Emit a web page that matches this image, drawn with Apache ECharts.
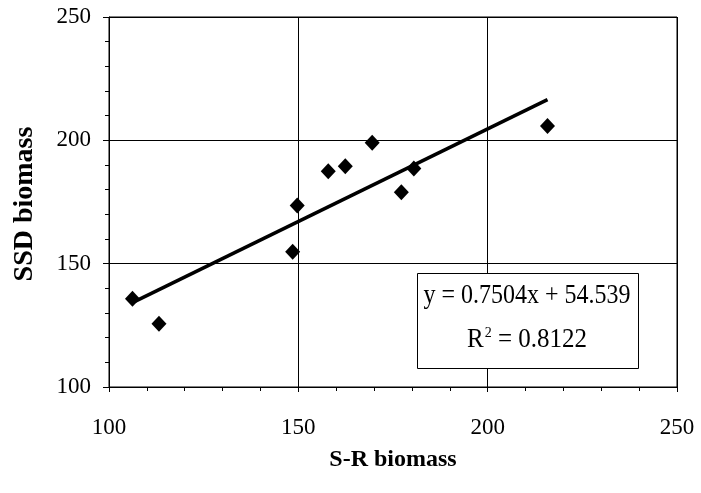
<!DOCTYPE html>
<html>
<head>
<meta charset="utf-8">
<script src="https://cdn.jsdelivr.net/npm/echarts@6/dist/echarts.min.js"></script>
<style>
  html, body { margin: 0; padding: 0; background: #fff; }
  #chart { width: 701px; height: 493px; }
</style>
</head>
<body>
<div id="chart"></div>
<script>
// S-R biomass vs SSD biomass samples
const srBiomass  = [106.2, 113.2, 148.5, 149.7, 157.9, 162.4, 169.5, 177.2, 180.5, 215.8];
const ssdBiomass = [135.8, 125.6, 154.8, 173.6, 187.5, 189.5, 199.0, 179.0, 188.6, 205.8];

// Linear fit reported on the chart
const slope = 0.7504;
const intercept = 54.539;
const rSquared = '0.8122';

const xTicks = [100, 150, 200, 250];
const yTicks = [100, 150, 200, 250];

const points = srBiomass.map((x, i) => [x, ssdBiomass[i]]);
const xMin = Math.min(...srBiomass);
const xMax = Math.max(...srBiomass);
const fitLine = [[xMin, slope * xMin + intercept], [xMax, slope * xMax + intercept]];

const serif = '"Liberation Serif", "Times New Roman", serif';

const chart = echarts.init(document.getElementById('chart'), null, { renderer: 'canvas' });

chart.setOption({
  animation: false,
  backgroundColor: '#fff',
  grid: { left: 109, right: 24, top: 17, bottom: 106, show: true, borderColor: '#000', borderWidth: 1 },
  xAxis: {
    type: 'value',
    min: xTicks[0], max: xTicks[xTicks.length - 1], interval: 50,
    name: 'S-R biomass',
    nameLocation: 'middle',
    nameGap: 61,
    nameTextStyle: { fontFamily: serif, fontWeight: 'bold', fontSize: 24, color: '#000' },
    axisLine: { lineStyle: { color: '#000', width: 1 } },
    axisTick: { show: true, length: 5, lineStyle: { color: '#000' } },
    minorTick: { show: true, splitNumber: 5, length: 4, lineStyle: { color: '#000' } },
    axisLabel: { fontFamily: serif, fontSize: 23, color: '#000', margin: 29 },
    splitLine: { show: true, lineStyle: { color: '#000', width: 1 } }
  },
  yAxis: {
    type: 'value',
    min: yTicks[0], max: yTicks[yTicks.length - 1], interval: 50,
    axisLine: { lineStyle: { color: '#000', width: 1 } },
    axisTick: { show: true, length: 6, lineStyle: { color: '#000' } },
    minorTick: { show: true, splitNumber: 5, length: 4, lineStyle: { color: '#000' } },
    axisLabel: { fontFamily: serif, fontSize: 23, color: '#000', margin: 18 },
    splitLine: { show: true, lineStyle: { color: '#000', width: 1 } }
  },
  graphic: [
    {
      type: 'text', x: 25, y: 204, rotation: Math.PI / 2,
      style: { text: 'SSD biomass', fontFamily: serif, fontWeight: 'bold', fontSize: 28,
               fill: '#000', textAlign: 'center', textVerticalAlign: 'middle' }
    },
    {
      type: 'rect', shape: { x: 417.5, y: 273.5, width: 221, height: 95 },
      style: { fill: '#fff', stroke: '#000', lineWidth: 1 }, z: 100
    },
    {
      type: 'text', x: 527, y: 296, z: 101, scaleY: 1.15, originX: 0, originY: 0,
      style: { text: 'y = ' + slope + 'x + ' + intercept, fontFamily: serif, fontSize: 24,
               fill: '#000', textAlign: 'center', textVerticalAlign: 'middle' }
    },
    {
      type: 'text', x: 527, y: 340, z: 101, scaleY: 1.1, originX: 0, originY: 0,
      style: {
        text: '{b|R}{s|2}{b| = ' + rSquared + '}',
        textAlign: 'center', textVerticalAlign: 'middle',
        rich: {
          b: { fontFamily: serif, fontSize: 25, fill: '#000', color: '#000' },
          s: { fontFamily: serif, fontSize: 14, fill: '#000', color: '#000', verticalAlign: 'top', padding: [0, 0, 12, 1] }
        }
      }
    }
  ],
  series: [
    {
      type: 'line',
      data: fitLine,
      symbol: 'none',
      lineStyle: { color: '#000', width: 3.5 },
      z: 3
    },
    {
      type: 'scatter',
      data: points,
      symbol: 'diamond',
      symbolSize: [15, 16],
      itemStyle: { color: '#000', opacity: 1 },
      z: 4
    }
  ]
});
</script>
</body>
</html>
